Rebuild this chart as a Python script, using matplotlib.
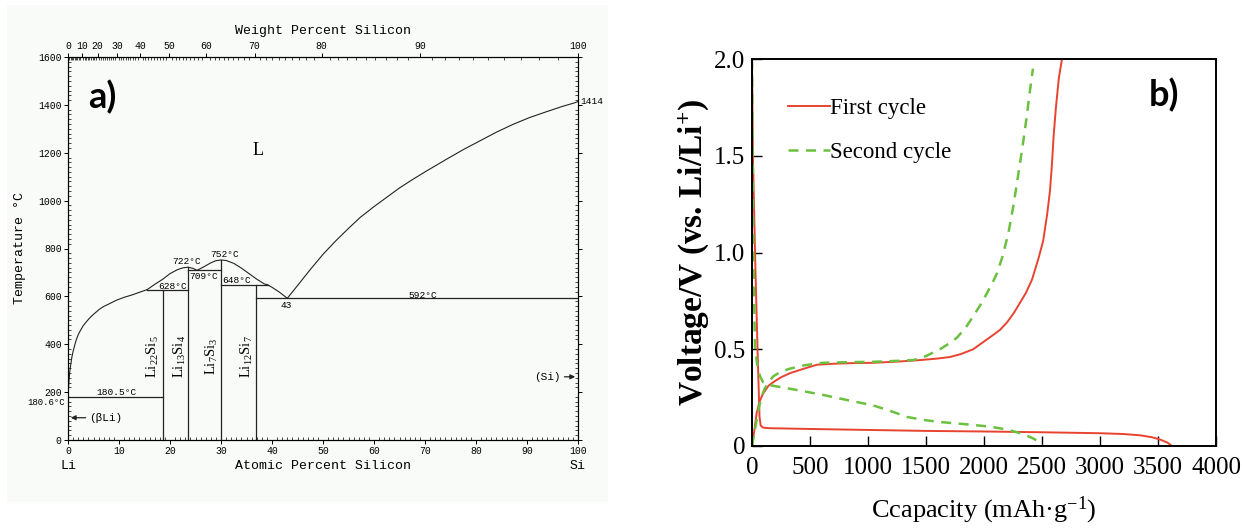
import matplotlib
matplotlib.use('Agg')
import matplotlib.pyplot as plt
from matplotlib.patches import Rectangle

plt.rcParams['mathtext.default'] = 'regular'

# ---------- a) Li-Si phase diagram ----------
liq_li_x = [0, 0.1, 0.2, 0.35, 0.5, 0.75, 1.0, 1.3, 1.6, 2.0, 2.5, 3.0, 3.6, 4.3, 5.0, 6.2,
            7.0, 8.0, 9.5, 11.0, 12.7, 14.0, 15.5]
liq_li_T = [180.6, 220, 250, 285, 310, 345, 370, 395, 417, 440, 460, 478, 494, 511, 525, 547,
            558, 568, 584, 596, 607, 617, 628]

dome_x = [15.5, 17.0, 18.6, 20.0, 21.5, 22.5, 23.5, 24.5, 25.3, 26.5, 28.0, 29.0, 30.0,
          31.0, 32.5, 34.0, 35.5, 37.0, 38.5, 39.2, 40.0, 41.5, 43.0]
dome_T = [628, 650, 672, 695, 712, 719, 722, 717, 709, 722, 740, 749, 752,
          750, 738, 718, 695, 672, 652, 648, 638, 617, 592]

liq_si_x = [43.0, 45.0, 47.5, 50.1, 52.5, 55.0, 57.3, 60.0, 62.5, 65.0, 67.7, 70.0, 74.3, 77.5,
            80.8, 84.0, 87.3, 90.5, 93.9, 97.0, 99.4, 100.0]
liq_si_T = [592, 645, 712, 778, 832, 884, 930, 975, 1014, 1053, 1090, 1120, 1174, 1213,
            1250, 1286, 1319, 1347, 1372, 1394, 1409, 1414]

# compounds: composition (at% Si), upper temperature, label
comp_x = [18.6, 23.5, 30.0, 36.8]
comp_T = [628, 722, 752, 648]
comp_lbl = ['Li$_{22}$Si$_5$', 'Li$_{13}$Si$_4$', 'Li$_7$Si$_3$', 'Li$_{12}$Si$_7$']
comp_lbl_x = [16.7, 21.9, 28.2, 35.1]

# invariant lines: (x start, x end, T)
inv_x0 = [0.0, 15.5, 23.5, 30.0, 36.8]
inv_x1 = [18.6, 23.5, 30.0, 39.2, 100.0]
inv_T = [180.5, 628, 709, 648, 592]

notes = ['180.5°C', '628°C', '722°C', '709°C', '752°C', '648°C', '43', '592°C']
notes_x = [9.5, 20.5, 23.2, 26.6, 30.8, 33.0, 42.9, 69.6]
notes_T = [199, 643, 744, 684, 776, 668, 562, 605]

wt_ticks = [0, 10, 20, 30, 40, 50, 60, 70, 80, 90, 100]

# ---------- b) charge / discharge curves ----------
c1_dis_cap = [0, 8, 30, 50, 65, 75, 95, 150, 500, 1000, 1500, 2000, 2500, 3000, 3200, 3350,
              3450, 3520, 3580, 3620]
c1_dis_v = [2.0, 1.5, 0.9, 0.45, 0.15, 0.105, 0.095, 0.092, 0.088, 0.083, 0.078, 0.075, 0.071,
            0.066, 0.062, 0.055, 0.045, 0.033, 0.018, 0.0]
c1_chg_cap = [0, 20, 40, 65, 95, 140, 183, 250, 330, 450, 560, 700, 850, 1043, 1250, 1450, 1600,
              1707, 1800, 1907, 2000, 2070, 2138, 2200, 2260, 2310, 2360, 2414, 2470, 2510, 2545,
              2569, 2585, 2600, 2620, 2645, 2672]
c1_chg_v = [0.0, 0.08, 0.17, 0.23, 0.27, 0.31, 0.33, 0.355, 0.377, 0.40, 0.42, 0.425, 0.428,
            0.43, 0.436, 0.444, 0.452, 0.46, 0.475, 0.50, 0.54, 0.57, 0.60, 0.64, 0.69, 0.74,
            0.79, 0.86, 0.97, 1.06, 1.2, 1.32, 1.45, 1.6, 1.75, 1.9, 2.0]

c2_dis_cap = [0, 5, 12, 20, 26, 45, 70, 95, 150, 240, 400, 612, 800, 1043, 1200, 1336, 1500,
              1620, 1850, 2052, 2200, 2336, 2420, 2483, 2500]
c2_dis_v = [2.0, 1.5, 1.0, 0.7, 0.51, 0.42, 0.36, 0.33, 0.315, 0.305, 0.288, 0.264, 0.24, 0.21,
            0.18, 0.15, 0.133, 0.124, 0.112, 0.10, 0.085, 0.062, 0.04, 0.02, 0.0]
c2_chg_cap = [0, 30, 60, 85, 112, 150, 183, 250, 330, 450, 612, 800, 1043, 1250, 1390, 1500,
              1620, 1700, 1767, 1840, 1907, 1970, 2026, 2070, 2110, 2160, 2210, 2253, 2300, 2340,
              2370, 2397, 2422]
c2_chg_v = [0.0, 0.1, 0.2, 0.26, 0.30, 0.335, 0.36, 0.385, 0.40, 0.417, 0.43, 0.433, 0.435,
            0.44, 0.444, 0.465, 0.50, 0.53, 0.56, 0.61, 0.67, 0.73, 0.79, 0.84, 0.89, 0.98, 1.1,
            1.24, 1.42, 1.58, 1.71, 1.84, 1.95]


def wt_to_at(w):
    # weight % Si -> atomic % Si
    nsi = w / 28.0855
    nli = (100 - w) / 6.941
    return 100 * nsi / (nsi + nli)


W, H = 1242, 531
fig = plt.figure(figsize=(W / 100, H / 100), dpi=100)
fig.patches.append(Rectangle((7 / W, 1 - 502 / H), 601 / W, 497 / H, transform=fig.transFigure,
                             facecolor='#f9fbf9', edgecolor='none', zorder=-5))

mono = 'Liberation Mono'
lc = '#222222'

ax = fig.add_axes([68 / W, 1 - 440 / H, 510 / W, 383 / H])
ax.patch.set_alpha(0)
ax.plot(liq_li_x, liq_li_T, color=lc, lw=0.8)
ax.plot(dome_x, dome_T, color=lc, lw=0.8)
ax.plot(liq_si_x, liq_si_T, color=lc, lw=0.8)
for x0, x1, t in zip(inv_x0, inv_x1, inv_T):
    ax.plot([x0, x1], [t, t], color=lc, lw=0.9)
for x, t in zip(comp_x, comp_T):
    ax.plot([x, x], [0, t], color=lc, lw=0.9)
for x, s in zip(comp_lbl_x, comp_lbl):
    ax.text(x, 350, s, rotation=90, ha='center', va='center', fontsize=10.5,
            family='Liberation Serif')
for s, x, t in zip(notes, notes_x, notes_T):
    ax.text(x, t, s, ha='center', va='center', fontsize=6.8, family=mono)

ax.text(37.3, 1208, 'L', fontsize=13, family='Liberation Serif', ha='center', va='center')
ax.text(-0.6, 158, '180.6°C', fontsize=6.5, family=mono, ha='right', va='center')
ax.text(100.4, 1414, '1414', fontsize=6.8, family=mono, ha='left', va='center')
ax.annotate('', xy=(0, 93), xytext=(4.0, 93),
            arrowprops=dict(arrowstyle='-|>', color=lc, lw=0.9, mutation_scale=7))
ax.text(4.2, 93, '(βLi)', fontsize=8, family=mono, ha='left', va='center')
ax.annotate('', xy=(100, 264), xytext=(96.8, 264),
            arrowprops=dict(arrowstyle='-|>', color=lc, lw=0.9, mutation_scale=7))
ax.text(96.6, 264, '(Si)', fontsize=8, family=mono, ha='right', va='center')
ax.text(0, -108, 'Li', fontsize=9.5, family=mono, ha='center', va='center')
ax.text(100, -108, 'Si', fontsize=9.5, family=mono, ha='center', va='center')

ax.set_xlim(0, 100)
ax.set_ylim(0, 1600)
ax.set_xticks(range(0, 101, 10))
ax.set_xticks(range(0, 101, 1), minor=True)
ax.set_yticks(range(0, 1601, 200))
ax.set_yticks(range(0, 1601, 20), minor=True)
ax.tick_params(which='major', direction='out', length=3, width=0.7, labelsize=7, pad=1.5,
               right=True, top=False)
ax.tick_params(which='minor', direction='in', length=2, width=0.5, right=True, top=False)
for lab in ax.get_xticklabels() + ax.get_yticklabels():
    lab.set_family(mono)
ax.set_xlabel('Atomic Percent Silicon', family=mono, fontsize=9.5, labelpad=3)
ax.set_ylabel('Temperature °C', family=mono, fontsize=9.5, labelpad=9)
for sp in ax.spines.values():
    sp.set_linewidth(0.8)

axt = ax.twiny()
axt.set_xlim(0, 100)
axt.set_xticks([wt_to_at(w) for w in wt_ticks])
axt.set_xticklabels([str(w) for w in wt_ticks], family=mono)
axt.set_xticks([wt_to_at(w) for w in range(0, 101)], minor=True)
axt.tick_params(which='major', direction='out', length=3, width=0.7, labelsize=7, pad=1.5)
axt.tick_params(which='minor', direction='in', length=2, width=0.5)
axt.set_xlabel('Weight Percent Silicon', family=mono, fontsize=9.5, labelpad=5)

fig.text(102 / W, 1 - 97 / H, 'a)', fontsize=26, fontweight='bold', family='Lato',
         ha='center', va='center')

# ---------- b) ----------
red = '#e8432f'
green = '#6cc040'
bx = fig.add_axes([752 / W, 1 - 446 / H, 464 / W, 387 / H])
bx.plot(c1_dis_cap, c1_dis_v, color=red, lw=1.4, label='First cycle')
bx.plot(c1_chg_cap, c1_chg_v, color=red, lw=1.4)
bx.plot(c2_dis_cap, c2_dis_v, color=green, lw=1.8, ls=(0, (4, 3)), label='Second cycle')
bx.plot(c2_chg_cap, c2_chg_v, color=green, lw=1.8, ls=(0, (4, 3)))
bx.set_xlim(0, 4000)
bx.set_ylim(0, 2.0)
bx.set_xticks(range(0, 4001, 500))
bx.set_yticks([0, 0.5, 1.0, 1.5, 2.0])
bx.set_yticklabels(['0', '0.5', '1.0', '1.5', '2.0'])
bx.tick_params(direction='in', length=7, width=1.0, labelsize=18)
bx.tick_params(axis='y', pad=5)
bx.tick_params(axis='x', pad=8)
for lab in bx.get_xticklabels() + bx.get_yticklabels():
    lab.set_family('Liberation Serif')
for sp in bx.spines.values():
    sp.set_linewidth(1.4)
bx.set_xlabel('Ccapacity (mAh·g$^{-1}$)', family='Liberation Serif', fontsize=19, labelpad=11)
bx.set_ylabel('Voltage/V (vs. Li/Li$^{+}$)', family='Liberation Serif', fontsize=24,
              fontweight='bold', labelpad=2)
bx.legend(loc='upper left', bbox_to_anchor=(0.034, 0.952), frameon=False, handlelength=1.8,
          handletextpad=0.0, labelspacing=0.98, prop={'family': 'Liberation Serif', 'size': 16.5})
fig.text(1164 / W, 1 - 95 / H, 'b)', fontsize=26, fontweight='bold', family='Lato',
         ha='center', va='center')

fig.savefig('out.png', dpi=100)
